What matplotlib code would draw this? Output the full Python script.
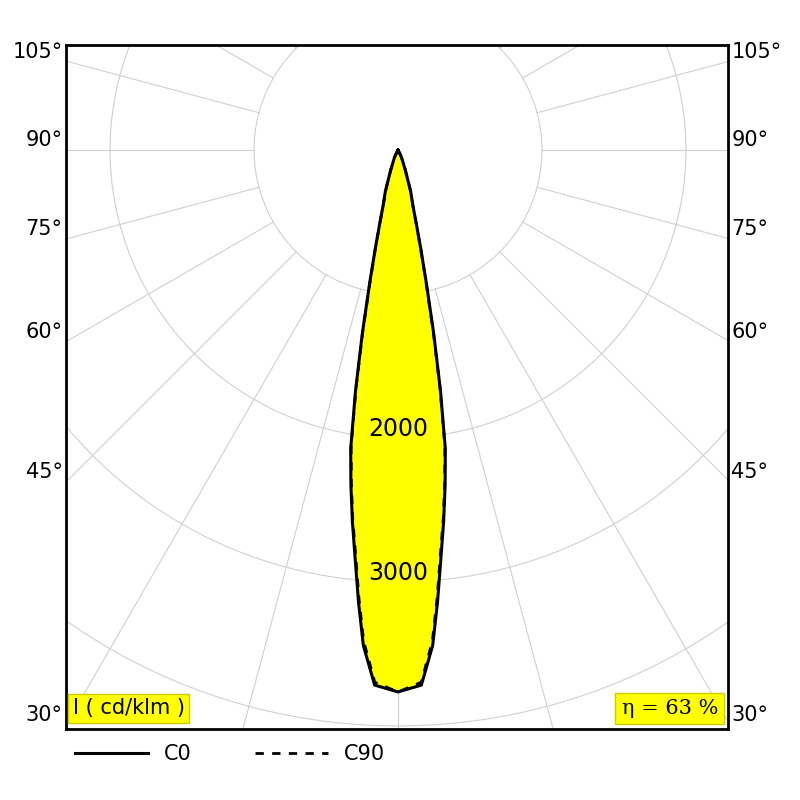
import numpy as np
import matplotlib
matplotlib.use("Agg")
import matplotlib.pyplot as plt
from matplotlib.lines import Line2D

angles_deg = [0, 2.5, 4, 5, 6, 7, 8, 9, 10, 11, 12, 13, 14, 15, 17, 20, 25, 30, 35]
c0_vals = [3764, 3720, 3450, 3150, 2850, 2600, 2350, 2100, 1700, 1300, 950, 700, 520, 400, 300, 150, 60, 15, 0]
c90_vals = [3764, 3700, 3420, 3120, 2820, 2580, 2330, 2080, 1680, 1280, 930, 690, 510, 395, 295, 148, 58, 14, 0]
ring_vals = [1000, 2000, 3000, 4000, 5000, 6000]
ring_labels = ["2000", "3000"]
angle_ticks = [30, 45, 60, 75, 90, 105]

fig = plt.figure(figsize=(8, 8), dpi=100)
ax = fig.add_axes([0.0825, 0.08875, 0.8275, 0.855])
ax.set_xlim(-2306, 2292)
ax.set_ylim(-4021, 729)
ax.set_aspect('equal')
ax.set_xticks([]); ax.set_yticks([])
for s in ax.spines.values():
    s.set_linewidth(2)

t = np.linspace(0, 2*np.pi, 400)
for r in ring_vals:
    ax.plot(r*np.sin(t), r*np.cos(t), color='#d0d0d0', lw=0.8, zorder=1)
for a in range(0, 181, 15):
    ar = np.radians(a)
    for sgn in (1, -1):
        ax.plot([sgn*1000*np.sin(ar), sgn*8000*np.sin(ar)],
                [-1000*np.cos(ar), -8000*np.cos(ar)], color='#d0d0d0', lw=0.8, zorder=1)

def curve(vals):
    a = np.radians(np.array(angles_deg))
    v = np.array(vals)
    x = np.concatenate([-(v*np.sin(a))[::-1], (v*np.sin(a))[1:]])
    y = np.concatenate([-(v*np.cos(a))[::-1], -(v*np.cos(a))[1:]])
    return x, y

x0, y0 = curve(c0_vals)
x9, y9 = curve(c90_vals)
ax.fill(x0, y0, color='#ffff00', zorder=2)
ax.plot(x0, y0, color='black', lw=2.2, zorder=3)
ax.plot(x9, y9, color='black', lw=2, ls=(0, (3, 3)), zorder=3)

for lab, r in zip(ring_labels, [2000, 3000]):
    ax.text(0, -r+60, lab, ha='center', va='center', fontsize=17, zorder=4)

for a in angle_ticks:
    ar = np.radians(a)
    y = -2306/np.tan(ar) + 70 if a != 90 else 70
    if a == 105:
        y = 2306*np.tan(np.radians(15)) + 60
    ax.text(-2330, y, f"{a}°", ha='right', va='center', fontsize=15, clip_on=False)
    ax.text(2316, y, f"{a}°", ha='left', va='center', fontsize=15, clip_on=False)

ax.text(0.01, 0.03, "I ( cd/klm )", transform=ax.transAxes, fontsize=15, va='center',
        bbox=dict(facecolor='#ffff00', edgecolor='#cccc00', boxstyle='square,pad=0.2'), zorder=5)
ax.text(0.985, 0.03, "η = 63 %", transform=ax.transAxes, fontsize=15, va='center', ha='right',
        family='DejaVu Serif',
        bbox=dict(facecolor='#ffff00', edgecolor='#cccc00', boxstyle='square,pad=0.3'), zorder=5)

handles = [Line2D([], [], color='black', lw=2.2), Line2D([], [], color='black', lw=2, ls=(0, (3, 3)))]
fig.legend(handles, ["C0", "C90"], loc='upper left', bbox_to_anchor=(0.07, 0.093), ncol=2,
           frameon=False, fontsize=15, handlelength=3.5, columnspacing=3)

fig.savefig("out.png", dpi=100)
